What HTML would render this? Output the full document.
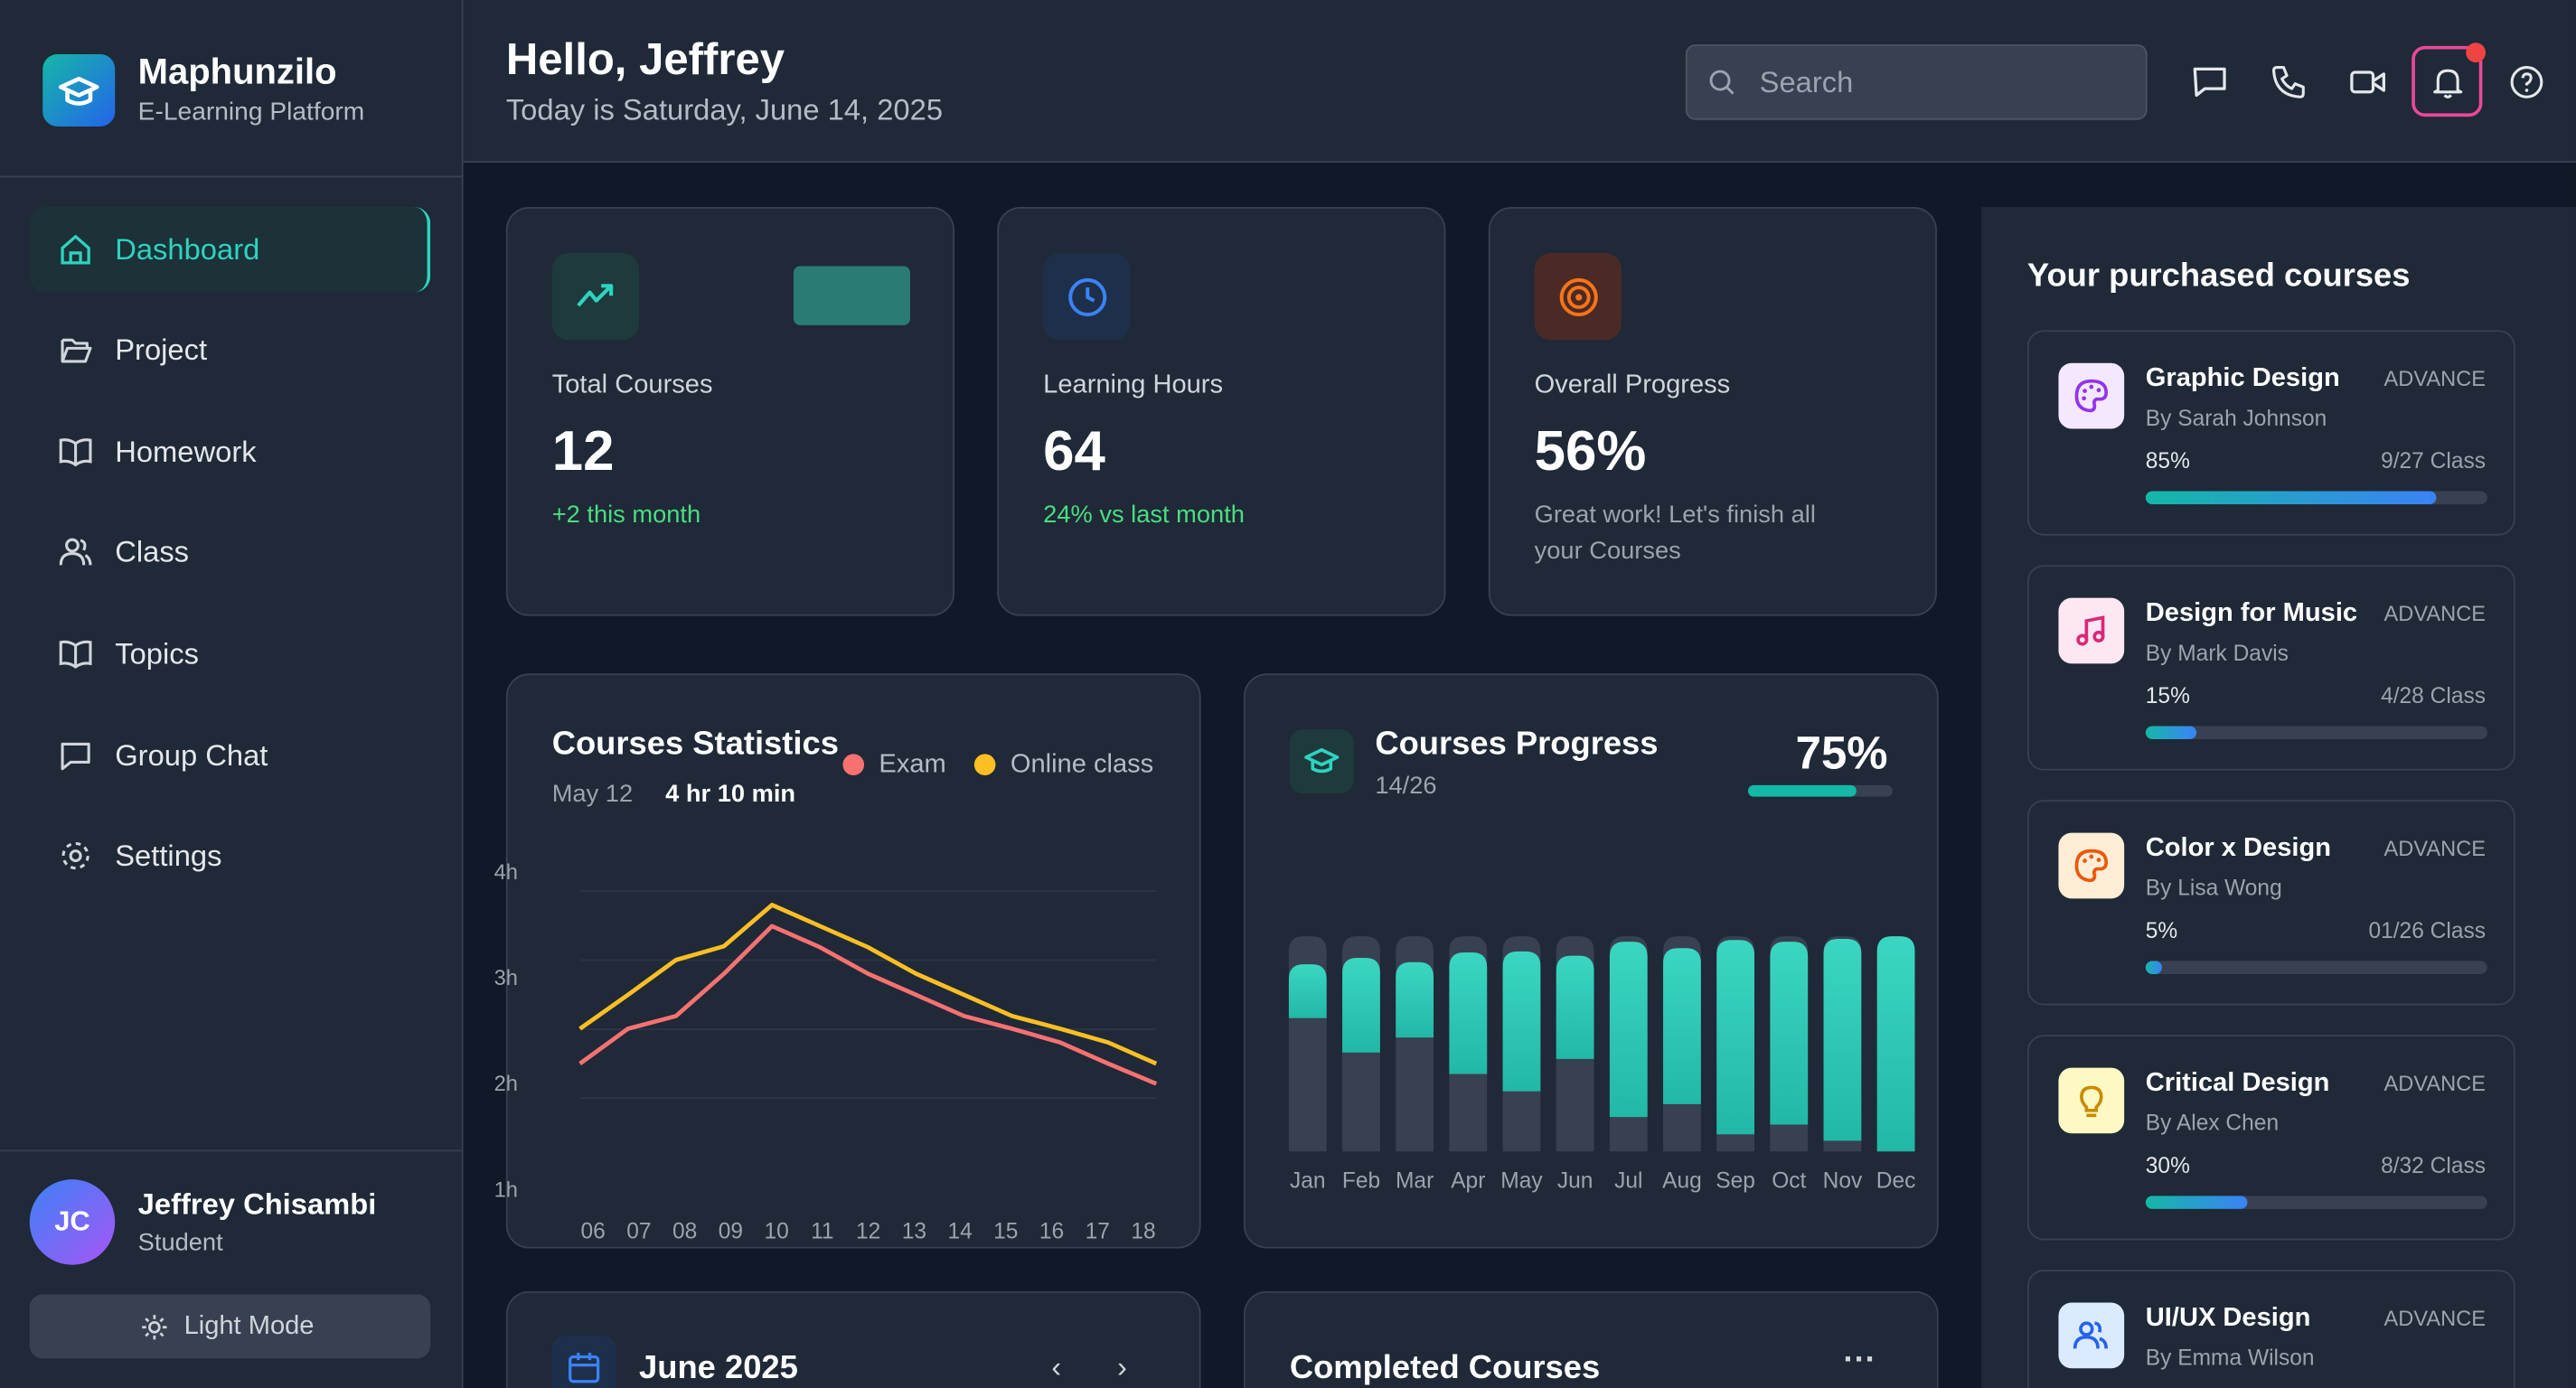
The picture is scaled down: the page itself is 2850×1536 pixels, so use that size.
<!DOCTYPE html>
<html><head><meta charset="utf-8">
<style>
*{box-sizing:border-box;margin:0;padding:0}
html,body{width:2850px;height:1536px;overflow:hidden;background:#111827;font-family:"Liberation Sans",sans-serif}
#wrap{position:absolute;left:0;top:0;width:1568px;height:845px;overflow:hidden;transform:scale(1.8176,1.8178);transform-origin:0 0;background:#111827;color:#fff}
.a{position:absolute}
.t{position:absolute;white-space:nowrap;line-height:1}
.card{position:absolute;background:#1f2937;border:1px solid #374151;border-radius:14px}
.nav{position:absolute;left:18px;width:244px;height:52px;border-radius:10px}
.nav .t{left:52px;top:17px;font-size:18px;color:#e5e7eb}
.nav svg{position:absolute;left:18px;top:16px}
.gray{color:#9ca3af}
.cc{position:absolute;left:1234px;width:297px;height:125px;border:1px solid #374151;border-radius:10px;background:#1f2937}
.cc .ic{position:absolute;left:18px;top:19px;width:40px;height:40px;border-radius:8px}
.cc .ti{left:71px;top:21px;font-size:16px;font-weight:bold}
.cc .lv{right:17px;top:22px;font-size:13px;color:#9ca3af}
.cc .by{left:71px;top:46px;font-size:13.5px;color:#9ca3af}
.cc .pc{left:71px;top:72px;font-size:13.5px;color:#e5e7eb}
.cc .cl{right:17px;top:72px;font-size:13.5px;color:#9ca3af}
.cc .tr{position:absolute;left:71px;top:97px;width:208px;height:8px;border-radius:4px;background:#374151;overflow:hidden}
.cc .fl{height:8px;border-radius:4px;background:linear-gradient(90deg,#14b8a6,#3b82f6)}
.cut{border-bottom:none;border-bottom-left-radius:0;border-bottom-right-radius:0}
</style></head><body>
<div id="wrap">

<div class="a" style="left:0;top:0;width:282px;height:845px;background:#1f2937;border-right:1px solid #374151"></div>
<div class="a" style="left:0;top:107px;width:281px;height:1px;background:#374151"></div>
<div class="a" style="left:26px;top:33px;width:44px;height:44px;border-radius:9px;background:linear-gradient(135deg,#14b8a6,#2563eb)">
<svg width="44" height="44" viewBox="0 0 44 44"><path d="M11 20 L22 15 L33 20 L22 25 Z M15 22 V28 Q22 32 29 28 V22" fill="none" stroke="#fff" stroke-width="2.5" stroke-linejoin="round"/></svg></div>
<div class="t" style="left:84px;top:33px;font-size:22px;font-weight:bold">Maphunzilo</div>
<div class="t gray" style="left:84px;top:61px;font-size:15.5px;color:#b6bcc6">E-Learning Platform</div>

<div class="nav" style="top:126px;background:#1c3238;border-right:2px solid #2dd4bf">
<svg width="20" height="20" viewBox="0 0 20 20"><path d="M2 9 L10 2 L18 9 V18 H2 Z M7 18 V12 H13 V18" fill="none" stroke="#2dd4bf" stroke-width="1.8"/></svg>
<div class="t" style="color:#2dd4bf">Dashboard</div></div>
<div class="nav" style="top:187px">
<svg width="20" height="20" viewBox="0 0 20 20"><path d="M2 4 H8 L10 6 H17 V9 M2 4 V17 H16 L19 9 H5 L2 17" fill="none" stroke="#d1d5db" stroke-width="1.7" stroke-linejoin="round"/></svg>
<div class="t">Project</div></div>
<div class="nav" style="top:249px">
<svg width="20" height="20" viewBox="0 0 20 20"><path d="M10 5 Q6 2 1 3 V16 Q6 15 10 18 Q14 15 19 16 V3 Q14 2 10 5 Z M10 5 V18" fill="none" stroke="#d1d5db" stroke-width="1.7"/></svg>
<div class="t">Homework</div></div>
<div class="nav" style="top:310px">
<svg width="20" height="20" viewBox="0 0 20 20"><circle cx="8" cy="6" r="3.5" fill="none" stroke="#d1d5db" stroke-width="1.7"/><path d="M1 18 Q1 11 8 11 Q15 11 15 18 M13 3 Q17 4 15 9 M16 12 Q19 14 19 18" fill="none" stroke="#d1d5db" stroke-width="1.7"/></svg>
<div class="t">Class</div></div>
<div class="nav" style="top:372px">
<svg width="20" height="20" viewBox="0 0 20 20"><path d="M10 5 Q6 2 1 3 V16 Q6 15 10 18 Q14 15 19 16 V3 Q14 2 10 5 Z M10 5 V18" fill="none" stroke="#d1d5db" stroke-width="1.7"/></svg>
<div class="t">Topics</div></div>
<div class="nav" style="top:434px">
<svg width="20" height="20" viewBox="0 0 20 20"><path d="M2 3 H18 V14 H7 L2 18 Z" fill="none" stroke="#d1d5db" stroke-width="1.7" stroke-linejoin="round"/></svg>
<div class="t">Group Chat</div></div>
<div class="nav" style="top:495px">
<svg width="20" height="20" viewBox="0 0 20 20"><circle cx="10" cy="10" r="3" fill="none" stroke="#d1d5db" stroke-width="1.7"/><circle cx="10" cy="10" r="7.5" fill="none" stroke="#d1d5db" stroke-width="1.7" stroke-dasharray="3 2.9"/></svg>
<div class="t">Settings</div></div>

<div class="a" style="left:0;top:700px;width:281px;height:1px;background:#374151"></div>
<div class="a" style="left:18px;top:718px;width:52px;height:52px;border-radius:50%;background:linear-gradient(135deg,#3b82f6,#a855f7);font-size:17px;font-weight:bold;text-align:center;line-height:52px">JC</div>
<div class="t" style="left:84px;top:724px;font-size:18px;font-weight:bold">Jeffrey Chisambi</div>
<div class="t" style="left:84px;top:749px;font-size:15px;color:#b6bcc6">Student</div>
<div class="a" style="left:18px;top:788px;width:244px;height:39px;border-radius:8px;background:#374151">
<svg class="a" style="left:68px;top:12px" width="16" height="16" viewBox="0 0 16 16"><circle cx="8" cy="8" r="3" fill="none" stroke="#d1d5db" stroke-width="1.5"/><path d="M8 0.5V3M8 13V15.5M0.5 8H3M13 8H15.5M2.7 2.7L4.4 4.4M11.6 11.6L13.3 13.3M2.7 13.3L4.4 11.6M11.6 4.4L13.3 2.7" stroke="#d1d5db" stroke-width="1.5"/></svg>
<div class="t" style="left:94px;top:12px;font-size:16px;color:#d1d5db">Light Mode</div></div>

<div class="a" style="left:282px;top:0;width:1286px;height:99px;background:#1f2937;border-bottom:1px solid #374151"></div>
<div class="t" style="left:308px;top:23px;font-size:27px;font-weight:bold">Hello, Jeffrey</div>
<div class="t" style="left:308px;top:58px;font-size:18px;color:#b6bcc6">Today is Saturday, June 14, 2025</div>
<div class="a" style="left:1026px;top:27px;width:281px;height:46px;border-radius:6px;background:#374151;border:1px solid #4b5563">
<svg class="a" style="left:13px;top:14px" width="17" height="17" viewBox="0 0 17 17"><circle cx="7" cy="7" r="5.5" fill="none" stroke="#9ca3af" stroke-width="1.6"/><path d="M11 11 L15 15" stroke="#9ca3af" stroke-width="1.6"/></svg>
<div class="t" style="left:44px;top:13px;font-size:18px;color:#9ca3af">Search</div></div>
<svg class="a" style="left:1334px;top:39px" width="22" height="22" viewBox="0 0 22 22"><path d="M2 3 H20 V15 H8 L3 19 Z" fill="none" stroke="#e5e7eb" stroke-width="1.8" stroke-linejoin="round"/></svg>
<svg class="a" style="left:1382px;top:39px" width="22" height="22" viewBox="0 0 22 22"><path d="M4 2 L8 2 L10 7 L7 9 Q9 13 13 15 L15 12 L20 14 V18 Q20 20 18 20 Q3 19 2 4 Q2 2 4 2 Z" fill="none" stroke="#e5e7eb" stroke-width="1.7" stroke-linejoin="round"/></svg>
<svg class="a" style="left:1430px;top:39px" width="22" height="22" viewBox="0 0 22 22"><rect x="1.5" y="5" width="13" height="12" rx="2" fill="none" stroke="#e5e7eb" stroke-width="1.8"/><path d="M15 10 L21 6 V16 L15 12" fill="none" stroke="#e5e7eb" stroke-width="1.8" stroke-linejoin="round"/></svg>
<div class="a" style="left:1468px;top:28px;width:43px;height:43px;border-radius:8px;border:2px solid #ec4899;background:#1f2937">
<svg class="a" style="left:9px;top:9px" width="22" height="22" viewBox="0 0 22 22"><path d="M5 16 V10 Q5 4 11 4 Q17 4 17 10 V16 L19 17 H3 Z M9 19 Q11 21 13 19" fill="none" stroke="#e5e7eb" stroke-width="1.7" stroke-linejoin="round"/></svg></div>
<div class="a" style="left:1501px;top:26px;width:12px;height:12px;border-radius:50%;background:#ef4444"></div>
<svg class="a" style="left:1527px;top:39px" width="22" height="22" viewBox="0 0 22 22"><circle cx="11" cy="11" r="9" fill="none" stroke="#e5e7eb" stroke-width="1.7"/><path d="M8.5 8.5 Q9 6 11 6 Q14 6 13.5 9 Q13 11 11 12 V13" fill="none" stroke="#e5e7eb" stroke-width="1.7"/><circle cx="11" cy="16" r="1" fill="#e5e7eb"/></svg>

<div class="card" style="left:308px;top:126px;width:273px;height:249px">
<div class="a" style="left:27px;top:27px;width:53px;height:53px;border-radius:10px;background:#1e3a3c"><svg class="a" style="left:14px;top:16px" width="26" height="20" viewBox="0 0 26 20"><path d="M2 16 L9 8 L13 13 L22 4 M16 4 H22 V10" fill="none" stroke="#2dd4bf" stroke-width="2.3" stroke-linejoin="round"/></svg></div>
<div class="a" style="left:174px;top:35px;width:71px;height:36px;border-radius:4px;background:#2a7b74"></div>
<div class="t" style="left:27px;top:100px;font-size:16px;color:#d1d5db">Total Courses</div>
<div class="t" style="left:27px;top:131px;font-size:34px;font-weight:bold">12</div>
<div class="t" style="left:27px;top:179px;font-size:15px;color:#4ade80">+2 this month</div></div>

<div class="card" style="left:607px;top:126px;width:273px;height:249px">
<div class="a" style="left:27px;top:27px;width:53px;height:53px;border-radius:10px;background:#1e2f4a"><svg class="a" style="left:14px;top:14px" width="26" height="26" viewBox="0 0 26 26"><circle cx="13" cy="13" r="10.5" fill="none" stroke="#3b82f6" stroke-width="2.2"/><path d="M13 7 V13 L17 15" fill="none" stroke="#3b82f6" stroke-width="2.2"/></svg></div>
<div class="t" style="left:27px;top:100px;font-size:16px;color:#d1d5db">Learning Hours</div>
<div class="t" style="left:27px;top:131px;font-size:34px;font-weight:bold">64</div>
<div class="t" style="left:27px;top:179px;font-size:15px;color:#4ade80">24% vs last month</div></div>

<div class="card" style="left:906px;top:126px;width:273px;height:249px">
<div class="a" style="left:27px;top:27px;width:53px;height:53px;border-radius:10px;background:#4a2a26"><svg class="a" style="left:14px;top:14px" width="26" height="26" viewBox="0 0 26 26"><circle cx="13" cy="13" r="10.5" fill="none" stroke="#f97316" stroke-width="2.2"/><circle cx="13" cy="13" r="6" fill="none" stroke="#f97316" stroke-width="2.2"/><circle cx="13" cy="13" r="2" fill="#f97316"/></svg></div>
<div class="t" style="left:27px;top:100px;font-size:16px;color:#d1d5db">Overall Progress</div>
<div class="t" style="left:27px;top:131px;font-size:34px;font-weight:bold">56%</div>
<div class="t" style="left:27px;top:179px;font-size:15px;color:#9ca3af">Great work! Let's finish all</div>
<div class="t" style="left:27px;top:201px;font-size:15px;color:#9ca3af">your Courses</div></div>

<div class="card" style="left:308px;top:410px;width:423px;height:350px"></div>
<div class="t" style="left:336px;top:443px;font-size:20px;font-weight:bold">Courses Statistics</div>
<div class="t" style="left:336px;top:476px;font-size:15px;color:#9ca3af">May 12</div>
<div class="t" style="left:405px;top:476px;font-size:15px;font-weight:bold">4 hr 10 min</div>
<div class="a" style="left:513px;top:459px;width:13px;height:13px;border-radius:50%;background:#f87171"></div>
<div class="t" style="left:535px;top:458px;font-size:16px;color:#b6bcc6">Exam</div>
<div class="a" style="left:593px;top:459px;width:13px;height:13px;border-radius:50%;background:#fbbf24"></div>
<div class="t" style="left:615px;top:458px;font-size:16px;color:#b6bcc6">Online class</div>

<div class="card" style="left:757px;top:410px;width:423px;height:350px"></div>
<div class="a" style="left:785px;top:444px;width:39px;height:39px;border-radius:8px;background:#1e3a3c"><svg class="a" style="left:8px;top:9px" width="23" height="20" viewBox="0 0 23 20"><path d="M2 8 L11.5 3.5 L21 8 L11.5 12.5 Z M6 10 V15 Q11.5 18 17 15 V10" fill="none" stroke="#2dd4bf" stroke-width="2" stroke-linejoin="round"/></svg></div>
<div class="t" style="left:837px;top:443px;font-size:20px;font-weight:bold">Courses Progress</div>
<div class="t" style="left:837px;top:471px;font-size:15px;color:#9ca3af">14/26</div>
<div class="t" style="left:1093px;top:445px;font-size:28px;font-weight:bold">75%</div>
<div class="a" style="left:1064px;top:478px;width:88px;height:7px;border-radius:4px;background:#374151"><div style="width:75%;height:7px;border-radius:4px;background:#14b8a6"></div></div>

<svg class="a" id="charts" style="left:0;top:0" width="1568" height="845" viewBox="0 0 1568 845">
<defs><linearGradient id="tg" x1="0" y1="0" x2="0" y2="1"><stop offset="0" stop-color="#3bd6c1"/><stop offset="1" stop-color="#22b8a6"/></linearGradient></defs>
<g id="line-chart"></g><g id="bar-chart"></g></svg>

<div class="card cut" style="left:308px;top:786px;width:423px;height:59px"></div>
<div class="a" style="left:336px;top:813px;width:39px;height:32px;border-radius:8px 8px 0 0;background:#1e2f4a"><svg class="a" style="left:9px;top:9px" width="21" height="21" viewBox="0 0 21 21"><rect x="2" y="4" width="17" height="15" rx="2" fill="none" stroke="#3b82f6" stroke-width="1.8"/><path d="M2 9 H19 M7 1.5 V6 M14 1.5 V6" stroke="#3b82f6" stroke-width="1.8"/></svg></div>
<div class="t" style="left:389px;top:823px;font-size:20px;font-weight:bold">June 2025</div>
<div class="t" style="left:640px;top:823px;font-size:18px;color:#d1d5db">‹</div>
<div class="t" style="left:680px;top:823px;font-size:18px;color:#d1d5db">›</div>
<div class="card cut" style="left:757px;top:786px;width:423px;height:59px"></div>
<div class="t" style="left:785px;top:823px;font-size:20px;font-weight:bold">Completed Courses</div>
<div class="t" style="left:1122px;top:818px;font-size:20px;color:#d1d5db;font-weight:bold">···</div>

<div class="a" style="left:1206px;top:126px;width:362px;height:719px;background:#1f2937"></div>
<div class="t" style="left:1234px;top:158px;font-size:20px;font-weight:bold">Your purchased courses</div>

<div class="cc" style="top:201px">
<div class="ic" style="background:#f3e8ff"><svg width="40" height="40" viewBox="0 0 40 40"><path d="M20 11 Q29 11 29 18 Q29 22 25 22 H23 Q21 23 22 26 Q22 29 19 29 Q11 28 11 20 Q11 11 20 11 Z" fill="none" stroke="#9333ea" stroke-width="2"/><circle cx="16" cy="17" r="1.3" fill="#9333ea"/><circle cx="20" cy="14.5" r="1.3" fill="#9333ea"/><circle cx="24.5" cy="16.5" r="1.3" fill="#9333ea"/><circle cx="15.5" cy="21.5" r="1.3" fill="#9333ea"/></svg></div>
<div class="t ti">Graphic Design</div><div class="t lv">ADVANCE</div><div class="t by">By Sarah Johnson</div>
<div class="t pc">85%</div><div class="t cl">9/27 Class</div><div class="tr"><div class="fl" style="width:85%"></div></div></div>

<div class="cc" style="top:344px">
<div class="ic" style="background:#fce7f3"><svg width="40" height="40" viewBox="0 0 40 40"><path d="M17 25 V14 L27 12 V23" fill="none" stroke="#db2777" stroke-width="2"/><circle cx="14.5" cy="25.5" r="2.6" fill="none" stroke="#db2777" stroke-width="2"/><circle cx="24.5" cy="23.5" r="2.6" fill="none" stroke="#db2777" stroke-width="2"/></svg></div>
<div class="t ti">Design for Music</div><div class="t lv">ADVANCE</div><div class="t by">By Mark Davis</div>
<div class="t pc">15%</div><div class="t cl">4/28 Class</div><div class="tr"><div class="fl" style="width:15%"></div></div></div>

<div class="cc" style="top:487px">
<div class="ic" style="background:#ffedd5"><svg width="40" height="40" viewBox="0 0 40 40"><path d="M20 11 Q29 11 29 18 Q29 22 25 22 H23 Q21 23 22 26 Q22 29 19 29 Q11 28 11 20 Q11 11 20 11 Z" fill="none" stroke="#ea580c" stroke-width="2"/><circle cx="16" cy="17" r="1.3" fill="#ea580c"/><circle cx="20" cy="14.5" r="1.3" fill="#ea580c"/><circle cx="24.5" cy="16.5" r="1.3" fill="#ea580c"/></svg></div>
<div class="t ti">Color x Design</div><div class="t lv">ADVANCE</div><div class="t by">By Lisa Wong</div>
<div class="t pc">5%</div><div class="t cl">01/26 Class</div><div class="tr"><div class="fl" style="width:5%"></div></div></div>

<div class="cc" style="top:630px">
<div class="ic" style="background:#fef9c3"><svg width="40" height="40" viewBox="0 0 40 40"><path d="M17 24 Q14 21 14 18 Q14 12 20 12 Q26 12 26 18 Q26 21 23 24 V26 H17 Z M17 29 H23" fill="none" stroke="#ca8a04" stroke-width="2"/></svg></div>
<div class="t ti">Critical Design</div><div class="t lv">ADVANCE</div><div class="t by">By Alex Chen</div>
<div class="t pc">30%</div><div class="t cl">8/32 Class</div><div class="tr"><div class="fl" style="width:30%"></div></div></div>

<div class="cc cut" style="top:773px;height:72px">
<div class="ic" style="background:#dbeafe"><svg width="40" height="40" viewBox="0 0 40 40"><circle cx="17" cy="16" r="3.5" fill="none" stroke="#2563eb" stroke-width="2"/><path d="M10 28 Q10 21 17 21 Q24 21 24 28 M22 12.5 Q26 13 25 18 M25 22 Q29 23 29 28" fill="none" stroke="#2563eb" stroke-width="2"/></svg></div>
<div class="t ti">UI/UX Design</div><div class="t lv">ADVANCE</div><div class="t by">By Emma Wilson</div></div>

</div>
<script>
const hours = ["06","07","08","09","10","11","12","13","14","15","16","17","18"];
const onlineClass = [2.51,2.83,3.16,3.29,3.68,3.48,3.28,3.03,2.83,2.63,2.51,2.38,2.18];
const exam = [2.18,2.51,2.63,3.03,3.48,3.28,3.03,2.83,2.63,2.51,2.38,2.18,1.99];
const yTicks = [4,3,2,1];
const months = ["Jan","Feb","Mar","Apr","May","Jun","Jul","Aug","Sep","Oct","Nov","Dec"];
const progStart = [0.62,0.46,0.53,0.36,0.28,0.43,0.16,0.22,0.08,0.125,0.05,0];
const progEnd = [0.87,0.90,0.88,0.925,0.93,0.91,0.975,0.945,0.983,0.975,0.988,1.0];

const NS = "http://www.w3.org/2000/svg";
function mk(tag, attrs, parent){const e=document.createElementNS(NS,tag);for(const k in attrs)e.setAttribute(k,attrs[k]);parent.appendChild(e);return e;}

const lg = document.getElementById('line-chart');
const lx = i => 353 + i*(350.8/(hours.length-1));
const ly = h => 723.5 - (h-1)*64.4;
[542.5,584.5,626.6,668.5].forEach(y=>{const g=mk('line',{x1:353,x2:704,y1:y,y2:y,stroke:'#2c3544','stroke-width':1},lg);

});
yTicks.forEach(v=>{const t=mk('text',{x:308,y:ly(v)+5,'font-size':13,fill:'#9ca3af','text-anchor':'middle','font-family':'Liberation Sans, sans-serif'},lg);t.textContent=v+'h';

});
const labX = i => 361 + i*(335/(hours.length-1));
hours.forEach((h,i)=>{const t=mk('text',{x:labX(i),y:754,'font-size':13.5,fill:'#9ca3af','text-anchor':'middle','font-family':'Liberation Sans, sans-serif'},lg);t.textContent=h;

});
function line(arr,color,name){const p=mk('polyline',{points:arr.map((v,i)=>lx(i)+','+ly(v)).join(' '),fill:'none',stroke:color,'stroke-width':2.6,'stroke-linejoin':'round'},lg);

}
line(onlineClass,'#fbbf24','online-class-line');
line(exam,'#f87171','exam-line');

const bg = document.getElementById('bar-chart');
const top0=570, bot=701, bw=23;
const by = f => bot - f*(bot-top0);
const bx = i => 796 + i*32.55;
function topRound(x,yt,yb,w,r){return `M${x},${yb} L${x},${yt+r} Q${x},${yt} ${x+r},${yt} L${x+w-r},${yt} Q${x+w},${yt} ${x+w},${yt+r} L${x+w},${yb} Z`;}
months.forEach((m,i)=>{
 const x=bx(i)-bw/2;
 const b=mk('path',{d:topRound(x,by(1),bot,bw,9),fill:'#374151'},bg);
 
 
 const f=mk('path',{d:topRound(x,by(progEnd[i]),by(progStart[i]),bw,9),fill:'url(#tg)'},bg);
 
 
 const t=mk('text',{x:bx(i),y:723,'font-size':13.5,fill:'#9ca3af','text-anchor':'middle','font-family':'Liberation Sans, sans-serif'},bg);t.textContent=m;
 
 
});
</script>
</body></html>
